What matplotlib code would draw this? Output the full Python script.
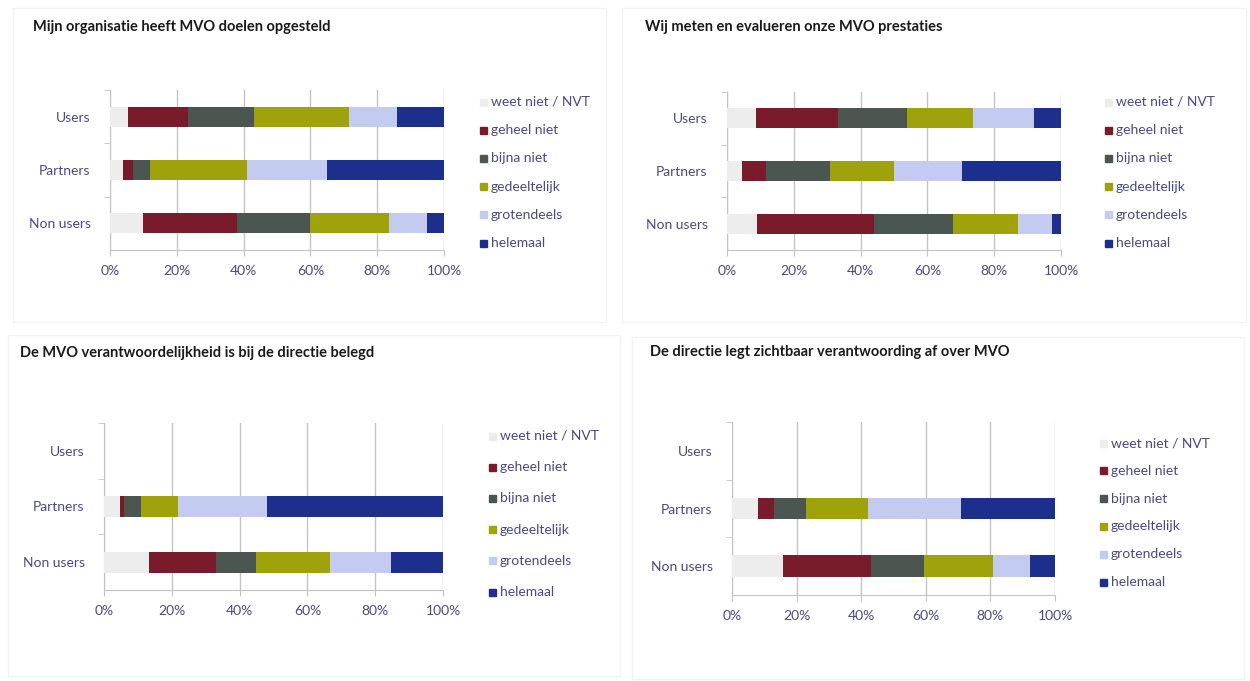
import numpy as np
import matplotlib
matplotlib.use('Agg')
from matplotlib import pyplot as plt
from matplotlib.patches import Rectangle

plt.rcParams['font.family'] = ['Lato', 'DejaVu Sans']

categories = ['Users', 'Partners', 'Non users']
series = ['weet niet / NVT', 'geheel niet', 'bijna niet', 'gedeeltelijk', 'grotendeels', 'helemaal']
colors = ['#ededed', '#7a1b2b', '#4b5651', '#a0a20c', '#c3cbf0', '#1c2f8c']
ticks = [0, 20, 40, 60, 80, 100]
tick_labels = ['0%', '20%', '40%', '60%', '80%', '100%']

# percentages per category, in series order
doelen_users = [5.3, 18.2, 19.5, 28.5, 14.5, 14.0]
doelen_partners = [3.8, 3.2, 5.0, 29.0, 24.0, 35.0]
doelen_non = [9.8, 28.2, 22.0, 23.5, 11.5, 5.0]

meten_users = [8.8, 24.4, 20.6, 20.0, 18.0, 8.2]
meten_partners = [4.5, 7.1, 19.3, 19.0, 20.4, 29.7]
meten_non = [9.1, 34.8, 23.9, 19.2, 10.2, 2.8]

directie_users = [0, 0, 0, 0, 0, 0]
directie_partners = [4.7, 1.2, 4.9, 10.9, 26.4, 51.9]
directie_non = [13.4, 19.6, 11.8, 21.8, 18.2, 15.2]

verantw_users = [0, 0, 0, 0, 0, 0]
verantw_partners = [8.0, 5.1, 9.8, 19.1, 28.8, 29.2]
verantw_non = [15.8, 27.2, 16.5, 21.2, 11.6, 7.7]

titles = ['Mijn organisatie heeft MVO doelen opgesteld',
          'Wij meten en evalueren onze MVO prestaties',
          'De MVO verantwoordelijkheid is bij de directie belegd',
          'De directie legt zichtbaar verantwoording af over MVO']
data = [[doelen_users, doelen_partners, doelen_non],
        [meten_users, meten_partners, meten_non],
        [directie_users, directie_partners, directie_non],
        [verantw_users, verantw_partners, verantw_non]]

W, H = 1250, 681
# axes boxes in pixels: left, top, right, bottom
boxes = [(110, 90, 444, 250), (727, 92, 1061, 250),
         (104, 423, 443, 590), (732, 422, 1055, 595)]
title_pos = [(33, 27), (645, 27), (20, 353), (650, 352)]
legend_pos = [(483, 102, 28.2), (1108, 102, 28.2), (492, 436, 31.2), (1103, 443, 27.8)]
frames = [(13, 8, 606, 322), (622, 8, 1246, 322), (8, 335, 620, 676), (632, 337, 1244, 679)]

txt = '#4a4a80'

fig = plt.figure(figsize=(W / 100, H / 100), dpi=100)
fig.patch.set_facecolor('white')

for fx0, fy0, fx1, fy1 in frames:
    fig.patches.append(Rectangle((fx0 / W, 1 - fy1 / H), (fx1 - fx0) / W, (fy1 - fy0) / H,
                                 transform=fig.transFigure, fill=False,
                                 edgecolor='#f3f3f3', linewidth=1))

for k in range(4):
    x0, y0, x1, y1 = boxes[k]
    ax = fig.add_axes([x0 / W, 1 - y1 / H, (x1 - x0) / W, (y1 - y0) / H])
    vals = np.array(data[k])
    ypos = np.arange(len(categories))[::-1]
    left = np.zeros(len(categories))
    for i in range(len(series)):
        ax.barh(ypos, vals[:, i], left=left, height=0.38, color=colors[i],
                label=series[i], zorder=3)
        left += vals[:, i]
    ax.set_xlim(0, 100)
    ax.set_ylim(-0.5, 2.5)
    ax.set_xticks(ticks)
    ax.set_xticklabels(tick_labels)
    ax.set_yticks(ypos)
    ax.set_yticklabels(categories)
    ax.set_yticks([0.5, 1.5, 2.5], minor=True)
    ax.grid(axis='x', color='#c4c4c4', linewidth=1, zorder=0)
    for s in ['top', 'right']:
        ax.spines[s].set_visible(False)
    for s in ['left', 'bottom']:
        ax.spines[s].set_color('#c4c4c4')
    ax.tick_params(axis='y', which='major', length=0, pad=14, labelsize=10, labelcolor=txt)
    ax.tick_params(axis='y', which='minor', length=4, color='#c4c4c4')
    ax.tick_params(axis='x', length=4, color='#c4c4c4', pad=7, labelsize=10, labelcolor=txt)

    tx, ty = title_pos[k]
    fig.text(tx / W, 1 - ty / H, titles[k], fontsize=10.5, fontweight='bold',
             color='#1a1a1a', va='center', ha='left')

    lx, ly, step = legend_pos[k]
    for i in range(len(series)):
        yy = ly + i * step
        fig.patches.append(Rectangle(((lx - 3.5) / W, 1 - (yy + 3.5) / H), 7 / W, 7 / H,
                                     transform=fig.transFigure, color=colors[i]))
        fig.text((lx + 8) / W, 1 - yy / H, series[i], fontsize=10, color=txt,
                 va='center', ha='left')

fig.savefig('out.png', dpi=100, facecolor='white')
